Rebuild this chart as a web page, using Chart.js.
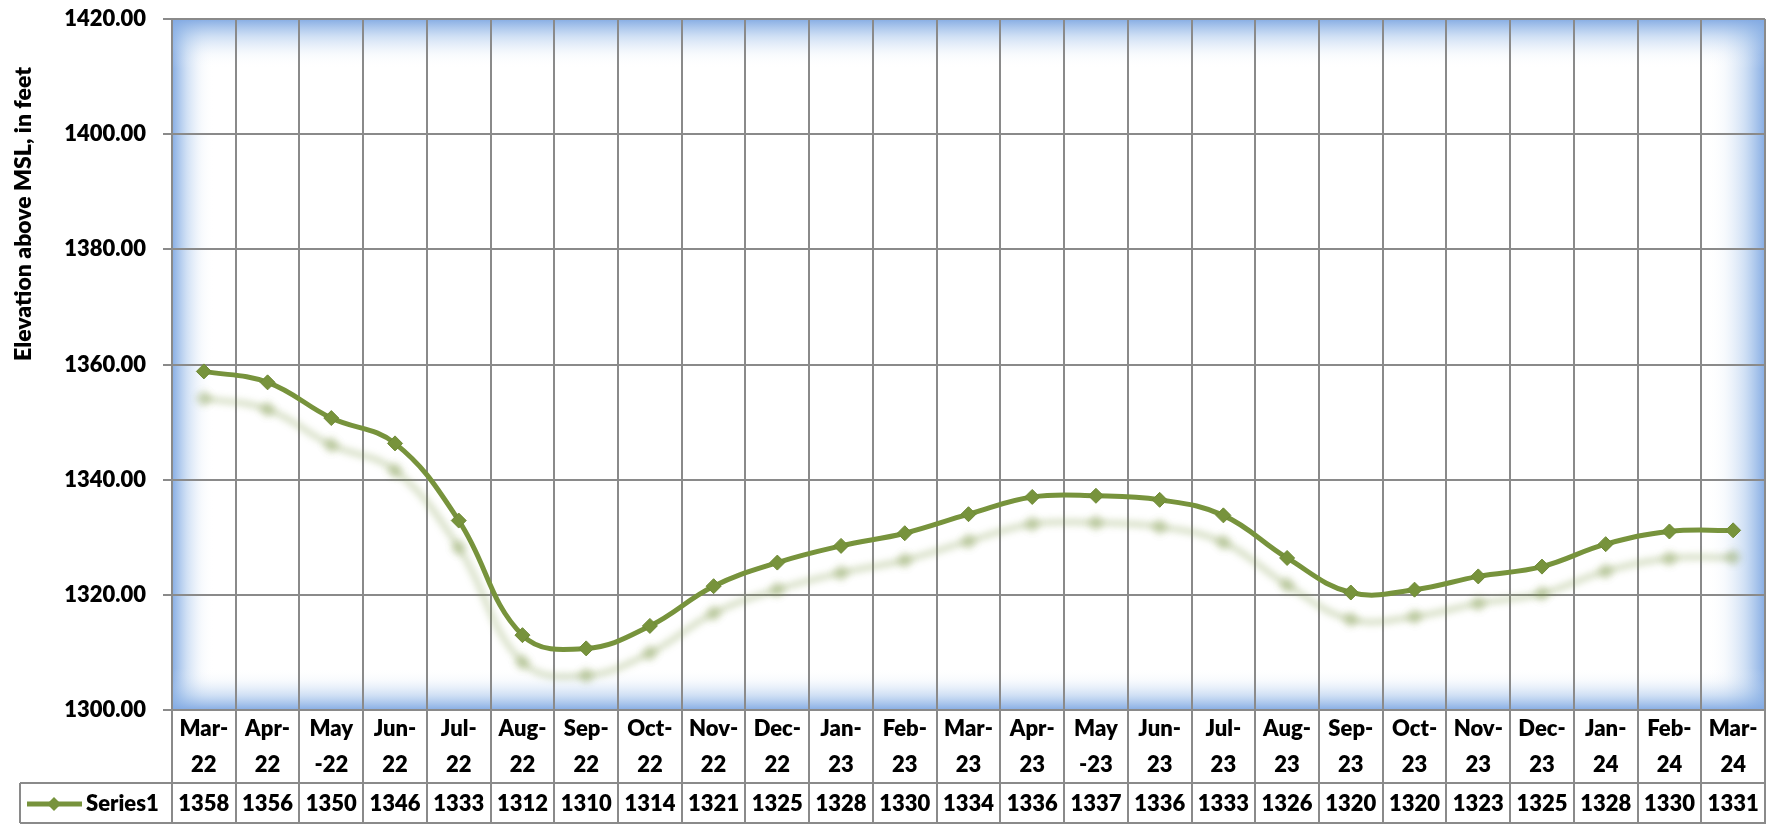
<!DOCTYPE html>
<html>
<head>
<meta charset="utf-8">
<script src="https://cdn.jsdelivr.net/npm/chart.js@4"></script>
<style>
  html, body { margin: 0; padding: 0; background: #ffffff; }
  #wrap { width: 1774px; height: 825px; position: relative; }
</style>
</head>
<body>
<div id="wrap"><canvas id="c" width="1774" height="825"></canvas></div>
<script>
// ---- data ----
const categories = ['Mar-22','Apr-22','May-22','Jun-22','Jul-22','Aug-22','Sep-22','Oct-22','Nov-22','Dec-22',
  'Jan-23','Feb-23','Mar-23','Apr-23','May-23','Jun-23','Jul-23','Aug-23','Sep-23','Oct-23','Nov-23','Dec-23',
  'Jan-24','Feb-24','Mar-24'];
const tickLabels = [['Mar-','22'],['Apr-','22'],['May','-22'],['Jun-','22'],['Jul-','22'],['Aug-','22'],['Sep-','22'],
  ['Oct-','22'],['Nov-','22'],['Dec-','22'],['Jan-','23'],['Feb-','23'],['Mar-','23'],['Apr-','23'],['May','-23'],
  ['Jun-','23'],['Jul-','23'],['Aug-','23'],['Sep-','23'],['Oct-','23'],['Nov-','23'],['Dec-','23'],['Jan-','24'],
  ['Feb-','24'],['Mar-','24']];
const elevation = [1358.8, 1356.9, 1350.7, 1346.3, 1332.9, 1313.0, 1310.7, 1314.6, 1321.5, 1325.6,
  1328.5, 1330.7, 1334.0, 1337.0, 1337.2, 1336.5, 1333.8, 1326.4, 1320.4, 1320.9, 1323.2, 1324.9,
  1328.8, 1331.0, 1331.2];
const tableValues = ['1358','1356','1350','1346','1333','1312','1310','1314','1321','1325','1328','1330',
  '1334','1336','1337','1336','1333','1326','1320','1320','1323','1325','1328','1330','1331'];
const seriesName = 'Series1';
const yAxisTitle = 'Elevation above MSL, in feet';
const yMin = 1300, yMax = 1420, yStep = 20;

// ---- style ----
const GREEN = '#77933C';
const GRID = '#8a8a8a';
const FONT = 'Lato, "Open Sans", sans-serif';
const WEIGHT = '800';

const plotBackground = {
  id: 'plotBackground',
  beforeDraw(chart) {
    const {ctx, chartArea: a} = chart;
    ctx.save();
    ctx.fillStyle = '#ffffff';
    ctx.fillRect(a.left, a.top, a.right - a.left, a.bottom - a.top);
    const edge = (x0, y0, x1, y1, rx, ry, rw, rh) => {
      const g = ctx.createLinearGradient(x0, y0, x1, y1);
      g.addColorStop(0, 'rgba(128,168,226,0.95)');
      g.addColorStop(0.35, 'rgba(150,186,232,0.45)');
      g.addColorStop(0.7, 'rgba(190,212,240,0.12)');
      g.addColorStop(1, 'rgba(255,255,255,0)');
      ctx.fillStyle = g;
      ctx.fillRect(rx, ry, rw, rh);
    };
    const W = a.right - a.left, H = a.bottom - a.top;
    const dl = 42, dr = 58, dt = 50, db = 42;
    edge(a.left, 0, a.left + dl, 0, a.left, a.top, dl, H);
    edge(a.right, 0, a.right - dr, 0, a.right - dr, a.top, dr, H);
    edge(0, a.top, 0, a.top + dt, a.left, a.top, W, dt);
    edge(0, a.bottom, 0, a.bottom - db, a.left, a.bottom - db, W, db);
    ctx.restore();
  }
};

const lineShadow = {
  id: 'lineShadow',
  beforeDatasetsDraw(chart) {
    const ctx = chart.ctx;
    ctx.save();
    ctx.shadowColor = 'rgba(119,147,60,0.36)';
    ctx.shadowBlur = 7;
    ctx.shadowOffsetX = 0;
    ctx.shadowOffsetY = 27;
  },
  afterDatasetsDraw(chart) {
    chart.ctx.restore();
  }
};

const dataTable = {
  id: 'dataTable',
  afterDraw(chart) {
    const {ctx, chartArea: a, scales} = chart;
    const x = scales.x, y = scales.y;
    const n = categories.length;
    const cw = (a.right - a.left) / n;
    const rowTop = 783, rowBottom = 823, tableLeft = 20;
    ctx.save();
    ctx.strokeStyle = GRID;
    ctx.lineWidth = 2;
    ctx.beginPath();
    // y tick marks
    for (let v = yMin; v <= yMax; v += yStep) {
      const py = Math.round(y.getPixelForValue(v));
      ctx.moveTo(a.left - 9, py);
      ctx.lineTo(a.left, py);
    }
    for (let i = 0; i <= n; i++) {
      const px = Math.round(a.left + i * cw);
      ctx.moveTo(px, a.bottom);
      ctx.lineTo(px, rowBottom);
    }
    ctx.moveTo(tableLeft, rowTop); ctx.lineTo(tableLeft, rowBottom);
    ctx.moveTo(tableLeft, rowTop); ctx.lineTo(a.right + 1, rowTop);
    ctx.moveTo(tableLeft, rowBottom); ctx.lineTo(a.right + 1, rowBottom);
    ctx.stroke();

    ctx.fillStyle = '#000';
    ctx.font = WEIGHT + ' 22px ' + FONT;
    ctx.textAlign = 'center';
    ctx.textBaseline = 'middle';
    const cy = (rowTop + rowBottom) / 2 + 1;
    for (let i = 0; i < n; i++) {
      ctx.fillText(tableValues[i], x.getPixelForValue(i), cy);
    }
    ctx.strokeStyle = GREEN;
    ctx.lineWidth = 5;
    ctx.beginPath();
    ctx.moveTo(27, cy); ctx.lineTo(82, cy);
    ctx.stroke();
    ctx.fillStyle = GREEN;
    ctx.beginPath();
    ctx.moveTo(54, cy - 7); ctx.lineTo(61, cy); ctx.lineTo(54, cy + 7); ctx.lineTo(47, cy);
    ctx.closePath();
    ctx.fill();
    ctx.fillStyle = '#000';
    ctx.textAlign = 'left';
    ctx.fillText(seriesName, 86, cy);

    ctx.save();
    ctx.translate(24, 214);
    ctx.rotate(-Math.PI / 2);
    ctx.textAlign = 'center';
    ctx.textBaseline = 'middle';
    ctx.font = WEIGHT + ' 23px ' + FONT;
    ctx.fillText(yAxisTitle, 0, 0);
    ctx.restore();
    ctx.restore();
  }
};

new Chart(document.getElementById('c'), {
  type: 'line',
  data: {
    labels: categories,
    datasets: [{
      label: seriesName,
      data: elevation,
      borderColor: GREEN,
      backgroundColor: GREEN,
      borderWidth: 5,
      tension: 0.4,
      pointStyle: 'rectRot',
      pointRadius: 7.5,
      pointBorderWidth: 1,
      pointBorderColor: '#6f8a36',
      pointBackgroundColor: GREEN,
      fill: false
    }]
  },
  options: {
    responsive: false,
    devicePixelRatio: 1,
    animation: false,
    layout: { padding: { top: 19, right: 9, left: 0, bottom: 0 } },
    plugins: {
      legend: { display: false },
      tooltip: { enabled: false },
      title: { display: false }
    },
    scales: {
      x: {
        type: 'category',
        offset: true,
        grid: { offset: true, color: GRID, lineWidth: 2, drawTicks: false },
        border: { display: true, color: GRID, width: 2 },
        ticks: {
          autoSkip: false,
          maxRotation: 0,
          minRotation: 0,
          padding: 1,
          color: '#000',
          font: { family: FONT, size: 22, weight: WEIGHT, lineHeight: 1.64 },
          callback: (v, i) => tickLabels[i]
        },
        afterFit(scale) { scale.height = 115; }
      },
      y: {
        min: yMin,
        max: yMax,
        grid: { color: GRID, lineWidth: 2, tickLength: 26, drawTicks: true, tickColor: 'rgba(0,0,0,0)' },
        border: { display: true, color: GRID, width: 2 },
        ticks: {
          stepSize: yStep,
          padding: 0,
          color: '#000',
          font: { family: FONT, size: 22, weight: WEIGHT },
          callback: (v) => Number(v).toFixed(2)
        },
        afterFit(scale) { scale.width = 172; }
      }
    }
  },
  plugins: [plotBackground, lineShadow, dataTable]
});
</script>
</body>
</html>
